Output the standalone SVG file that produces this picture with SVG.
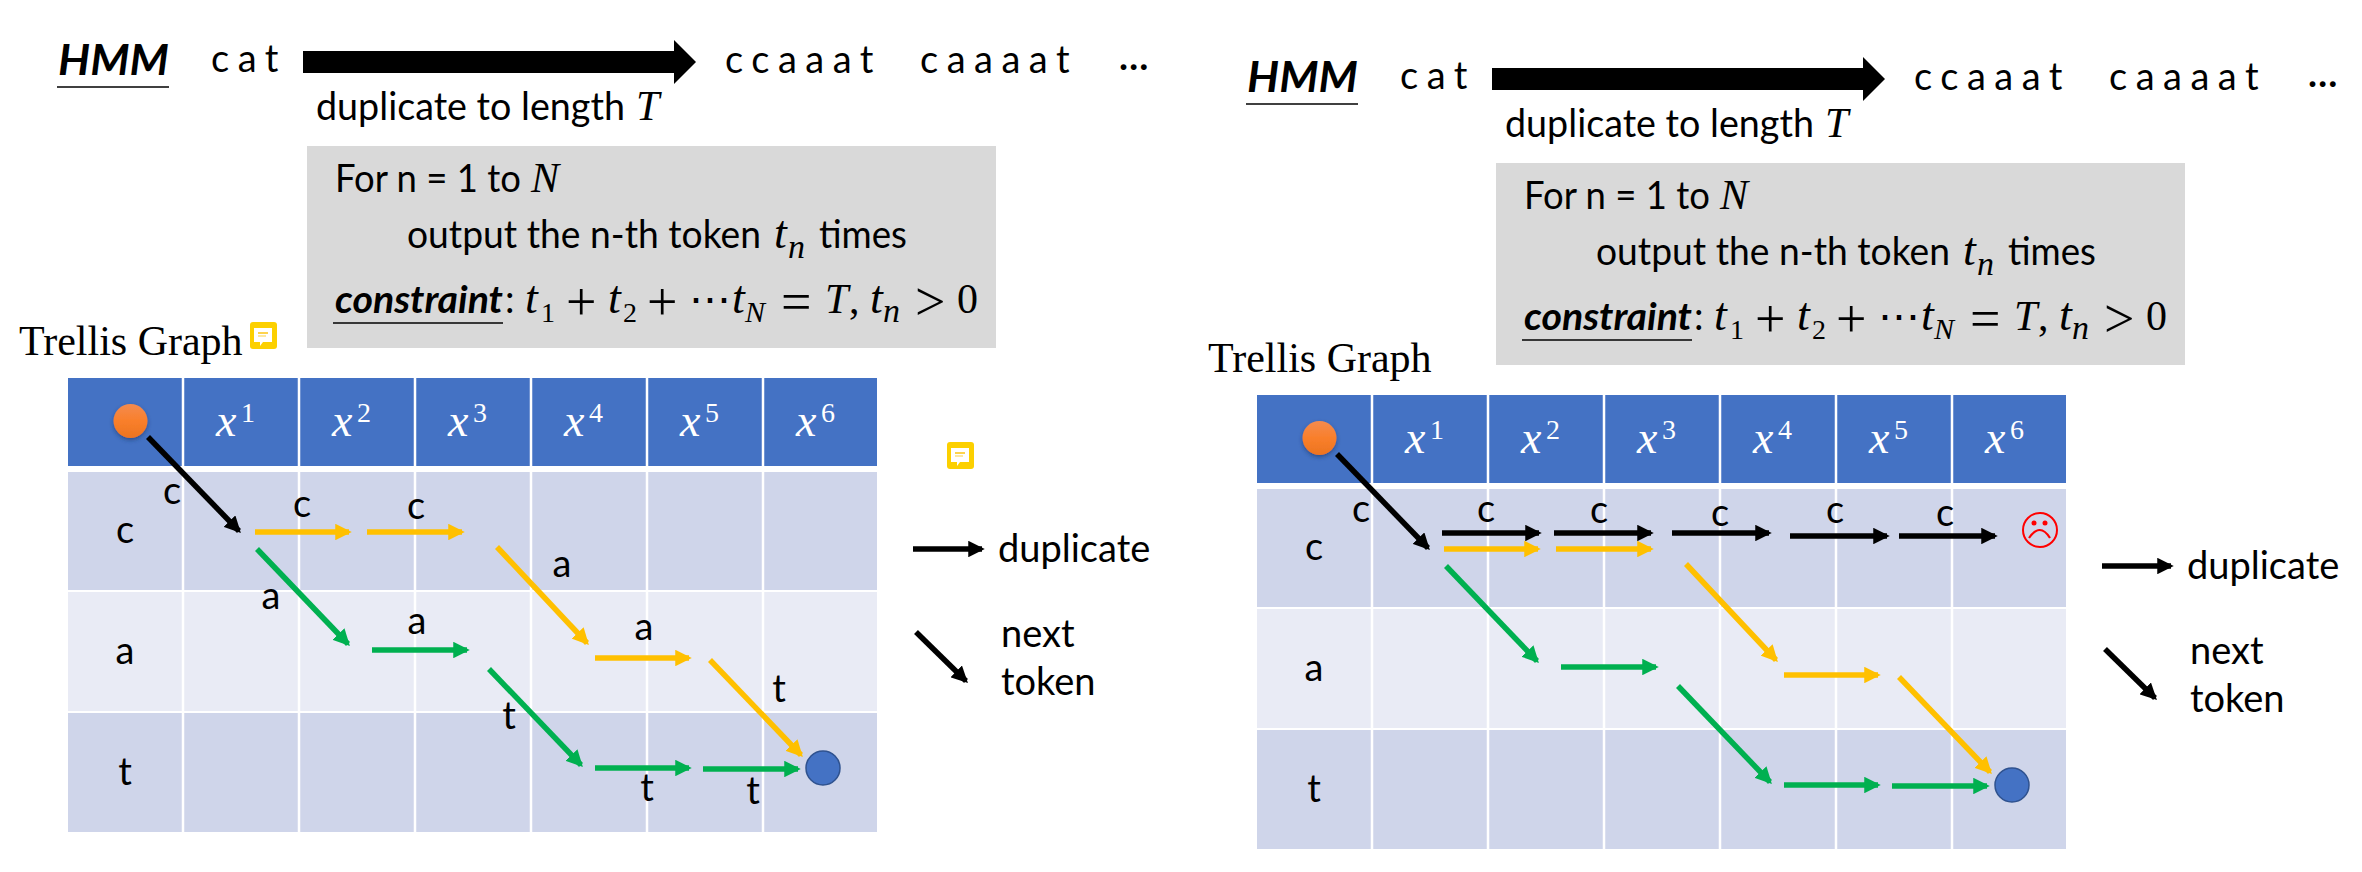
<svg xmlns="http://www.w3.org/2000/svg" xmlns:xlink="http://www.w3.org/1999/xlink" width="2362" height="872" viewBox="0 0 2362 872">
<style>
text{font-family:Lato,"Open Sans","Liberation Sans",sans-serif;fill:#000;font-size:38px}
.m{font-family:"Liberation Serif",serif;font-style:italic;font-size:46px}
.cap{font-family:"Liberation Serif",serif;font-style:italic;font-size:42px}
.n{font-family:"Liberation Serif",serif;font-size:42px}
.op{font-family:"Liberation Serif",serif;font-size:54px}
.sd{font-family:"Liberation Serif",serif;font-size:28px}
.si{font-family:"Liberation Serif",serif;font-style:italic;font-size:34px}
.sN{font-family:"Liberation Serif",serif;font-style:italic;font-size:30px}
.t{text-anchor:middle}
.hx{font-family:"Liberation Serif",serif;font-style:italic;font-size:46px;fill:#fff}
.hs{font-family:"Liberation Serif",serif;font-size:28px;fill:#fff}
.seq{letter-spacing:8.5px}
.hm{font-size:42px;font-weight:700;font-style:italic}
.ci{font-weight:700;font-style:italic}
.y{stroke:#ffc000;stroke-width:5.5;fill:none;marker-end:url(#my)}
.g{stroke:#00b050;stroke-width:5.5;fill:none;marker-end:url(#mg)}
.k{stroke:#000;stroke-width:5.5;fill:none;marker-end:url(#mk)}
.hd{fill:#4472c4}.r1{fill:#cfd5ea}.r2{fill:#e9ebf5}
.gl{stroke:#fff;stroke-width:2.5}
.ul{stroke:#000;stroke-width:1.5}
</style>
<defs>
<marker id="my" markerUnits="strokeWidth" markerWidth="3" markerHeight="3" refX="2.5" refY="1.5" orient="auto"><path d="M0 0L3 1.5L0 3z" fill="#ffc000"/></marker>
<marker id="mg" markerUnits="strokeWidth" markerWidth="3" markerHeight="3" refX="2.5" refY="1.5" orient="auto"><path d="M0 0L3 1.5L0 3z" fill="#00b050"/></marker>
<marker id="mk" markerUnits="strokeWidth" markerWidth="3" markerHeight="3" refX="2.5" refY="1.5" orient="auto"><path d="M0 0L3 1.5L0 3z" fill="#000"/></marker>
<linearGradient id="og" x1="0" y1="0" x2="0" y2="1"><stop offset="0" stop-color="#f48b4f"/><stop offset="0.5" stop-color="#f97f2b"/><stop offset="1" stop-color="#ec7420"/></linearGradient>
<filter id="sh" x="-30%" y="-30%" width="160%" height="160%"><feDropShadow dx="0" dy="2" stdDeviation="2" flood-color="#1f3864" flood-opacity="0.6"/></filter>
<g id="note"><rect width="27" height="27" rx="3" fill="#fcd000"/><path d="M4 6H22V20H13L10 24V20H4z" fill="#fff"/><path d="M8 11H18" stroke="#fcc000" stroke-width="1.4"/><path d="M8 14H16" stroke="#fde38a" stroke-width="1.6"/></g>
<g id="table">
<rect class="hd" x="68" y="378" width="809" height="88"/>
<rect class="r1" x="68" y="472" width="809" height="118"/>
<rect class="r2" x="68" y="592" width="809" height="119"/>
<rect class="r1" x="68" y="713" width="809" height="119"/>
<path class="gl" d="M183 378V832M299 378V832M415 378V832M531 378V832M647 378V832M763 378V832"/>
</g>
<g id="hdr">
<text class="hx" x="216" y="436">x</text><text class="hs" x="241" y="422">1</text>
<text class="hx" x="332" y="436">x</text><text class="hs" x="357" y="422">2</text>
<text class="hx" x="448" y="436">x</text><text class="hs" x="473" y="422">3</text>
<text class="hx" x="564" y="436">x</text><text class="hs" x="589" y="422">4</text>
<text class="hx" x="680" y="436">x</text><text class="hs" x="705" y="422">5</text>
<text class="hx" x="796" y="436">x</text><text class="hs" x="821" y="422">6</text>
</g>
</defs>
<rect width="2362" height="872" fill="#fff"/>

<g id="panel-left">
<g id="hmm-left"><text class="hm" x="58" y="75" textLength="111" lengthAdjust="spacingAndGlyphs">HMM</text><path class="ul" d="M57 87H169"/></g>
<g id="input-left"><text class="seq" x="211" y="72">cat</text></g>
<g id="output-left"><text class="seq" x="725" y="73">ccaaat</text><text class="seq" x="920" y="73">caaaat</text><text x="1119" y="70" font-weight="700">…</text></g>
<g id="duplabel-left"><text x="316" y="120" textLength="309" lengthAdjust="spacingAndGlyphs">duplicate to length</text><text class="cap" x="636" y="120">T</text></g>
<g id="box-left"><rect x="307" y="146" width="689" height="202" fill="#d9d9d9"/>
<text x="335" y="192" textLength="186" lengthAdjust="spacingAndGlyphs">For n = 1 to</text><text class="cap" x="531" y="192">N</text>
<text x="407" y="248" textLength="354" lengthAdjust="spacingAndGlyphs">output the n-th token</text><text class="m" x="774" y="248">t</text><text class="si" x="788" y="258">n</text><text x="819" y="248" textLength="88" lengthAdjust="spacingAndGlyphs">times</text>
<text class="ci" x="335" y="313" textLength="168" lengthAdjust="spacingAndGlyphs">constraint</text><text x="505" y="313">:</text>
<text class="m" x="525" y="313">t</text><text class="sd" x="541" y="322">1</text><text class="op" x="566" y="320">+</text><text class="m" x="608" y="313">t</text><text class="sd" x="623" y="322">2</text><text class="op" x="647" y="320">+</text><text class="n" x="689" y="313" textLength="29" lengthAdjust="spacing">⋯</text><text class="m" x="732" y="313">t</text><text class="sN" x="745" y="322">N</text><text class="op" x="781" y="320">=</text><text class="cap" x="825" y="313">T</text><text class="n" x="849" y="313">,</text><text class="m" x="870" y="313">t</text><text class="si" x="883" y="322">n</text><text class="op" x="915" y="320">&gt;</text><text class="n" x="957" y="313">0</text>
<path class="ul" d="M333 323H503"/></g>
<g id="trellis-left"><text class="n" x="19" y="355">Trellis Graph</text></g>
<g id="note-1"><use xlink:href="#note" x="250" y="322"/></g>
<g id="note-2"><use xlink:href="#note" x="947" y="442"/></g>
<g id="table-left"><use xlink:href="#table"/><use xlink:href="#hdr"/>
<text class="t" x="125" y="543">c</text><text class="t" x="125" y="664">a</text><text class="t" x="125" y="785">t</text></g>
<g id="start-left"><circle cx="130.5" cy="421" r="17" fill="url(#og)" filter="url(#sh)"/></g>
<g id="end-left"><circle cx="823" cy="768" r="17" fill="#4472c4" stroke="#2f528f" stroke-width="1.5"/></g>
<g id="connectors-left">
<path d="M303 62H674" stroke="#000" stroke-width="22"/><path d="M674 40L696 62L674 84z" fill="#000"/>
<path class="k" d="M148 437L239 531"/>
<path class="y" d="M255 532H349"/><path class="y" d="M367 532H462"/><path class="y" d="M497 547L587 643"/><path class="y" d="M595 658H689"/><path class="y" d="M710 660L801 755"/>
<path class="g" d="M257 549L348 644"/><path class="g" d="M372 650H467"/><path class="g" d="M489 669L581 765"/><path class="g" d="M595 768H689"/><path class="g" d="M703 769H798"/>
<path class="k" d="M913 549H982"/><path class="k" d="M916 632L966 681"/>
</g>
<g id="labels-left">
<text class="t" x="172" y="504">c</text><text class="t" x="302" y="517">c</text><text class="t" x="416" y="519">c</text><text class="t" x="562" y="577">a</text><text class="t" x="271" y="609">a</text><text class="t" x="417" y="634">a</text><text class="t" x="644" y="640">a</text><text class="t" x="779" y="702">t</text><text class="t" x="509" y="729">t</text><text class="t" x="647" y="801">t</text><text class="t" x="753" y="804">t</text>
<text x="998" y="562">duplicate</text><text x="1001" y="647">next</text><text x="1001" y="695">token</text>
</g>
</g>

<g id="panel-right" transform="translate(1189 17)">
<g id="hmm-right"><text class="hm" x="58" y="75" textLength="111" lengthAdjust="spacingAndGlyphs">HMM</text><path class="ul" d="M57 87H169"/></g>
<g id="input-right"><text class="seq" x="211" y="72">cat</text></g>
<g id="output-right"><text class="seq" x="725" y="73">ccaaat</text><text class="seq" x="920" y="73">caaaat</text><text x="1119" y="70" font-weight="700">…</text></g>
<g id="duplabel-right"><text x="316" y="120" textLength="309" lengthAdjust="spacingAndGlyphs">duplicate to length</text><text class="cap" x="636" y="120">T</text></g>
<g id="box-right"><rect x="307" y="146" width="689" height="202" fill="#d9d9d9"/>
<text x="335" y="192" textLength="186" lengthAdjust="spacingAndGlyphs">For n = 1 to</text><text class="cap" x="531" y="192">N</text>
<text x="407" y="248" textLength="354" lengthAdjust="spacingAndGlyphs">output the n-th token</text><text class="m" x="774" y="248">t</text><text class="si" x="788" y="258">n</text><text x="819" y="248" textLength="88" lengthAdjust="spacingAndGlyphs">times</text>
<text class="ci" x="335" y="313" textLength="168" lengthAdjust="spacingAndGlyphs">constraint</text><text x="505" y="313">:</text>
<text class="m" x="525" y="313">t</text><text class="sd" x="541" y="322">1</text><text class="op" x="566" y="320">+</text><text class="m" x="608" y="313">t</text><text class="sd" x="623" y="322">2</text><text class="op" x="647" y="320">+</text><text class="n" x="689" y="313" textLength="29" lengthAdjust="spacing">⋯</text><text class="m" x="732" y="313">t</text><text class="sN" x="745" y="322">N</text><text class="op" x="781" y="320">=</text><text class="cap" x="825" y="313">T</text><text class="n" x="849" y="313">,</text><text class="m" x="870" y="313">t</text><text class="si" x="883" y="322">n</text><text class="op" x="915" y="320">&gt;</text><text class="n" x="957" y="313">0</text>
<path class="ul" d="M333 323H503"/></g>
<g id="trellis-right"><text class="n" x="19" y="355">Trellis Graph</text></g>
<g id="table-right"><use xlink:href="#table"/><use xlink:href="#hdr"/>
<text class="t" x="125" y="543">c</text><text class="t" x="125" y="664">a</text><text class="t" x="125" y="785">t</text></g>
<g id="start-right"><circle cx="130.5" cy="421" r="17" fill="url(#og)" filter="url(#sh)"/></g>
<g id="end-right"><circle cx="823" cy="768" r="17" fill="#4472c4" stroke="#2f528f" stroke-width="1.5"/></g>
<g id="sad-right"><circle cx="851" cy="513" r="17" fill="none" stroke="#f00" stroke-width="2"/><circle cx="845" cy="506" r="2.5" fill="#f00"/><circle cx="856" cy="506" r="2.5" fill="#f00"/><path d="M840 521Q851 505 861 521" fill="none" stroke="#f00" stroke-width="2.2"/></g>
<g id="connectors-right">
<path d="M303 62H674" stroke="#000" stroke-width="22"/><path d="M674 40L696 62L674 84z" fill="#000"/>
<path class="k" d="M148 437L239 531"/>
<path class="k" d="M253 516H350"/><path class="k" d="M365 516H462"/><path class="k" d="M483 516H580"/><path class="k" d="M601 519H698"/><path class="k" d="M710 519H806"/>
<path class="y" d="M255 532H349"/><path class="y" d="M367 532H462"/><path class="y" d="M497 547L587 643"/><path class="y" d="M595 658H689"/><path class="y" d="M710 660L801 755"/>
<path class="g" d="M257 549L348 644"/><path class="g" d="M372 650H467"/><path class="g" d="M489 669L581 765"/><path class="g" d="M595 768H689"/><path class="g" d="M703 769H798"/>
<path class="k" d="M913 549H982"/><path class="k" d="M916 632L966 681"/>
</g>
<g id="labels-right">
<text class="t" x="172" y="505">c</text><text class="t" x="297" y="505">c</text><text class="t" x="410" y="506">c</text><text class="t" x="531" y="509">c</text><text class="t" x="646" y="506">c</text><text class="t" x="756" y="509">c</text>
<text x="998" y="562">duplicate</text><text x="1001" y="647">next</text><text x="1001" y="695">token</text>
</g>
</g>
</svg>
